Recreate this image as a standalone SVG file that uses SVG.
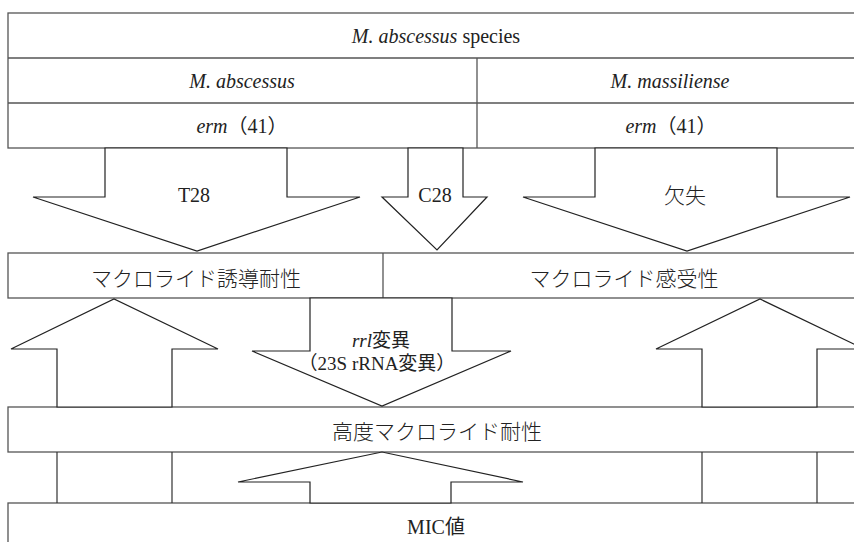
<svg xmlns="http://www.w3.org/2000/svg" width="854" height="542" viewBox="0 0 854 542">
<style>
.box{fill:#fff;stroke:#555;stroke-width:1.3}
.ln{stroke:#555;stroke-width:1.3;fill:none}
.arr{fill:#fff;stroke:#222;stroke-width:1.2;stroke-linejoin:miter}
.sh{stroke:#333;stroke-width:1.2;fill:none}
.t{font-family:"Liberation Serif","Noto Sans CJK JP",serif;font-size:20px;fill:#222;text-anchor:middle}
.j{font-family:"Noto Sans CJK JP","Liberation Serif",sans-serif;font-size:21px;font-weight:300;fill:#222;text-anchor:middle}
.s{font-size:19px}
.i{font-style:italic}
</style>
<rect width="854" height="542" fill="#fff"/>
<g id="species-table">
<rect class="box" x="8" y="13" width="860" height="135"/>
<line class="ln" x1="8" y1="58" x2="854" y2="58"/>
<line class="ln" x1="8" y1="103" x2="854" y2="103"/>
<line class="ln" x1="477" y1="58" x2="477" y2="148"/>
<text class="t" x="436" y="43"><tspan class="i">M. abscessus</tspan> species</text>
<text class="t i" x="242" y="88">M. abscessus</text>
<text class="t i" x="670" y="88">M. massiliense</text>
<text class="t" x="242" y="133"><tspan class="i">erm</tspan>（41）</text>
<text class="t" x="671" y="133"><tspan class="i">erm</tspan>（41）</text>
</g>
<g id="phenotype-row">
<rect class="box" x="8" y="253" width="860" height="45"/>
<line class="ln" x1="383" y1="253" x2="383" y2="298"/>
<text class="j" x="196" y="286">マクロライド誘導耐性</text>
<text class="j" x="624" y="286">マクロライド感受性</text>
</g>
<g id="high-resistance">
<rect class="box" x="8" y="407" width="860" height="45"/>
<text class="j" x="437" y="439">高度マクロライド耐性</text>
</g>
<g id="mic">
<rect class="box" x="8" y="503" width="860" height="60"/>
<text class="t" x="436" y="534">MIC値</text>
</g>
<g id="connectors">
<polygon class="arr" points="105,148 105,197 33,197 197,251 360,197 287,197 287,148"/>
<text class="t" x="194" y="202">T28</text>
<polygon class="arr" points="408,148 408,197 382,197 437,250 487,197 463,197 463,148"/>
<text class="t" x="435" y="202">C28</text>
<polygon class="arr" points="595,148 595,197 523,197 687,251 850,197 777,197 777,148"/>
<text class="j" x="685" y="203">欠失</text>
<polygon class="arr" points="57,407 57,349 11,349 114,299 218,349 172,349 172,407"/>
<polygon class="arr" points="702,407 702,349 656,349 760,299 864,349 817,349 817,407"/>
<polygon class="arr" points="310,298 310,351 252,351 382,406 511,351 452,351 452,298"/>
<text class="t s" x="381" y="347"><tspan class="i">rrl</tspan>変異</text>
<text class="t s" x="377" y="370">（23S rRNA変異）</text>
<polygon class="arr" points="310,503 310,482 238,482 382,452 523,482 451,482 451,503"/>
<path class="sh" d="M57,452V503M172,452V503M702,452V503M817,452V503"/>
</g>
</svg>
